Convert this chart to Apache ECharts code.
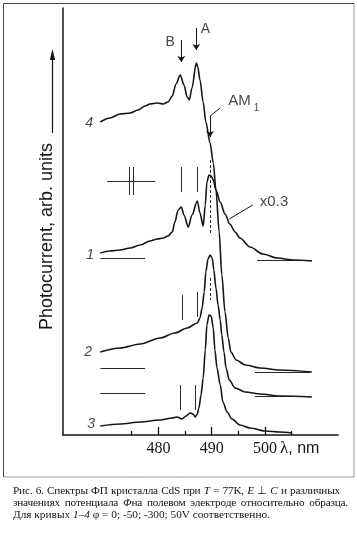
<!DOCTYPE html>
<html><head><meta charset="utf-8">
<script src="https://cdn.jsdelivr.net/npm/echarts@6/dist/echarts.min.js"></script>
<style>
html,body{margin:0;padding:0;background:#fff;}
#chart{position:absolute;left:0;top:0;width:357px;height:535px;}
#cap{position:absolute;left:13px;top:484px;font-family:'Liberation Serif','Times New Roman',serif;font-size:11.3px;line-height:12px;color:#151515;}
#cap div{white-space:nowrap;}
#cap div.j{white-space:normal;text-align:justify;text-align-last:justify;letter-spacing:-0.2px;}
</style></head>
<body>
<div id="chart"></div>
<div id="cap">
<div class="j" style="width:327px">Рис. 6. Спектры ФП кристалла CdS при <i>T</i> = 77K, <i>E</i> ⊥ <i>C</i> и различных</div>
<div class="j" style="width:335px">значениях потенциала <i>Φ</i>на полевом электроде относительно образца.</div>
<div>Для кривых <i>1–4</i> φ = 0; -50; -300; 50V соответственно.</div>
</div>
<script>
// wavelength (nm), photocurrent (arb. units, curves offset)
const curve4 = [[469.1,31.3],[470.9,31.7],[472.8,32.1],[474.7,32.2],[476.2,32.5],[477.5,32.9],[478.4,33.1],[479.8,33.2],[480.9,33.1],[481.8,33.3],[482.6,33.9],[483.3,35.1],[484.1,36.0],[484.8,35.0],[485.4,33.8],[485.8,33.5],[486.3,34.7],[487.1,37.2],[487.4,36.8],[487.8,35.5],[488.4,33.3],[488.9,31.3],[489.7,29.2],[490.3,27.2],[490.8,24.5],[491.4,20.3],[491.9,16.0],[492.5,12.3],[493.1,9.7],[493.6,8.3],[494.6,7.5],[496.3,7.0],[499.1,6.7],[502.8,6.5],[508.8,6.3]];
const curve1 = [[469.1,18.2],[470.9,18.4],[472.8,18.5],[474.7,18.7],[476.6,19.0],[478.4,19.4],[479.8,19.6],[480.9,19.7],[481.8,19.9],[482.6,20.3],[483.1,21.3],[483.7,22.5],[484.3,22.8],[484.8,22.0],[485.6,20.8],[486.3,22.0],[487.3,23.4],[487.8,22.2],[488.4,20.9],[488.8,23.0],[489.1,25.3],[489.5,26.0],[489.9,25.9],[490.3,25.5],[490.8,24.5],[491.6,23.3],[492.5,22.1],[493.4,21.1],[494.4,20.3],[495.3,19.7],[497.2,18.8],[499.6,18.1],[502.3,17.7],[505.3,17.5],[508.8,17.4]];
const curve2 = [[469.1,8.3],[472.8,8.7],[476.6,9.1],[480.3,9.7],[483.1,10.2],[485.4,10.7],[487.3,11.2],[487.8,11.7],[488.2,12.7],[488.6,14.3],[488.9,16.3],[489.3,17.6],[489.7,18.0],[490.1,17.7],[490.4,16.5],[490.8,14.7],[491.2,13.0],[491.6,11.5],[491.9,10.0],[492.3,8.3],[492.7,6.7],[493.3,5.5],[494.4,4.7],[496.3,4.3],[499.1,4.1],[502.8,3.9],[508.8,3.8]];
const curve3 = [[469.1,0.9],[472.8,1.1],[476.6,1.3],[480.3,1.5],[482.6,1.7],[483.5,1.8],[484.4,1.6],[485.2,1.9],[485.9,2.2],[486.5,2.1],[486.9,1.8],[487.3,2.1],[487.6,2.7],[488.0,4.0],[488.4,5.7],[488.8,8.5],[489.1,11.0],[489.5,12.0],[489.9,11.9],[490.3,10.7],[490.6,8.5],[491.0,6.7],[491.6,5.0],[492.1,3.3],[492.9,2.3],[493.8,1.6],[495.3,1.0],[497.2,0.7],[500.0,0.4],[502.8,0.3],[505.1,0.2]];
// baseline segments [from, to, level]
const zeroLines = [[469.1,477.5,17.7],[498.5,508.8,17.5],[470.4,479.4,25.4],[469.1,477.5,6.7],[498.1,508.4,6.3],[469.1,477.5,4.2],[498.1,508.4,3.9]];
// vertical position marks [wavelength, top, bottom]
const solidMarks = [[474.5,26.8,24.0],[475.3,26.8,24.0],[484.3,26.8,24.3],[487.3,26.8,24.3],[484.4,14.0,11.5],[487.3,14.3,11.8],[484.1,5.0,2.5],[486.9,5.0,2.5]];
const dashedMarks = [[489.7,27.5,20.2],[489.7,15.7,13.5]];
// annotations
const arrowLines = [[[484.3,39.5],[484.3,37.3]],[[487.1,40.7],[487.1,38.5]],[[489.7,31.9],[489.7,29.8]]];
const leaderLines = [[[491.6,32.7],[489.7,31.9]],[[497.7,23.0],[493.3,21.6]]];
const peakLabels = [['B',482.2,39.3],['A',488.8,40.6]];
const noteLabels = [['AM',495.2,33.4],['x0.3',501.7,23.3]];
const subLabels = [['1',498.4,32.65]];
const curveLabels = [['4',467.0,31.2],['1',467.2,18.0],['2',466.8,8.3],['3',467.4,1.1]];
const majorTicks = [480,490,500];
const minorTicks = [475,485,495,505];

const INK = '#151515';
const chart = echarts.init(document.getElementById('chart'));
function seg(a){return {coords:a};}
function labelSeries(arr, font, size, style){
  return {type:'scatter', symbolSize:0, silent:true, z:5,
    data: arr.map(d=>({name:d[0], value:[d[1],d[2]]})),
    label:{show:true, position:'inside', formatter:p=>p.name, color:INK, fontFamily:font, fontSize:size, fontStyle:style||'normal'}};
}
const lineSeries = (data)=>({type:'line', data, showSymbol:false, smooth:0.3, smoothMonotone:'x', lineStyle:{color:INK, width:1.6}, z:3});
chart.setOption({
  animation:false,
  grid:{left:63, top:8, width:275, height:427},
  xAxis:[
    {type:'value', min:462.1, max:513.7, position:'bottom',
     axisLine:{show:true, onZero:false, lineStyle:{color:INK, width:1.5}},
     axisTick:{show:true, inside:true, length:8, customValues:majorTicks, lineStyle:{color:INK, width:1.3}},
     axisLabel:{show:true, customValues:majorTicks, margin:6, fontFamily:'Liberation Serif', fontSize:16, color:INK},
     splitLine:{show:false}},
    {type:'value', min:462.1, max:513.7, position:'bottom',
     axisLine:{show:false, onZero:false},
     axisTick:{show:true, inside:true, length:4, customValues:minorTicks, lineStyle:{color:INK, width:1.3}},
     axisLabel:{show:false}, splitLine:{show:false}}
  ],
  yAxis:{type:'value', min:0, max:42.7, axisLine:{show:true, onZero:false, lineStyle:{color:INK, width:1.5}}, axisTick:{show:false}, axisLabel:{show:false}, splitLine:{show:false}},
  series:[
    lineSeries(curve4), lineSeries(curve1), lineSeries(curve2), lineSeries(curve3),
    {type:'lines', coordinateSystem:'cartesian2d', silent:true, z:2,
     data: zeroLines.map(s=>seg([[s[0],s[2]],[s[1],s[2]]])), lineStyle:{color:'#2a2a2a', width:1.2, opacity:1}},
    {type:'lines', coordinateSystem:'cartesian2d', silent:true, z:2,
     data: solidMarks.map(s=>seg([[s[0],s[1]],[s[0],s[2]]])), lineStyle:{color:'#2a2a2a', width:1, opacity:1}},
    {type:'lines', coordinateSystem:'cartesian2d', silent:true, z:2,
     data: dashedMarks.map(s=>seg([[s[0],s[1]],[s[0],s[2]]])), lineStyle:{color:'#2a2a2a', width:1, type:[3,2], opacity:1}},
    {type:'lines', coordinateSystem:'cartesian2d', silent:true, z:4, symbol:['none','arrow'], symbolSize:6,
     data: arrowLines.map(seg), lineStyle:{color:INK, width:1, opacity:1}},
    {type:'lines', coordinateSystem:'cartesian2d', silent:true, z:4,
     data: leaderLines.map(seg), lineStyle:{color:INK, width:1, opacity:1}},
    labelSeries(peakLabels,'Liberation Sans',14),
    labelSeries(noteLabels,'Liberation Sans',15),
    labelSeries(subLabels,'Liberation Sans',10),
    labelSeries(curveLabels,'Liberation Sans',14,'italic')
  ],
  graphic:[
    {type:'polyline', shape:{points:[[3.5,477],[3.5,3.5],[354,3.5]]}, style:{stroke:'#444', lineWidth:1, fill:null}},
    {type:'polyline', shape:{points:[[354,3.5],[354,477],[3.5,477]]}, style:{stroke:'#333', lineWidth:1, lineDash:[1,1], fill:null}},
    {type:'text', x:47, y:236.5, rotation:Math.PI/2,
     style:{text:'Photocurrent, arb. units', font:'18px "Liberation Sans"', fill:INK, textAlign:'center', textVerticalAlign:'middle', align:'center', verticalAlign:'middle'}},
    {type:'line', shape:{x1:52.5, y1:133, x2:52.5, y2:58}, style:{stroke:INK, lineWidth:1.2}},
    {type:'polygon', shape:{points:[[52.5,49],[49.8,60],[55.2,60]]}, style:{fill:INK}},
    {type:'text', x:280, y:449,
     style:{text:'{g|λ}{s|, nm}', rich:{g:{fontFamily:'Liberation Serif', fontSize:17, fill:INK}, s:{fontFamily:'Liberation Sans', fontSize:16, fill:INK}}, textAlign:'left', textVerticalAlign:'middle', align:'left', verticalAlign:'middle'}}
  ]
});
</script>
</body></html>
